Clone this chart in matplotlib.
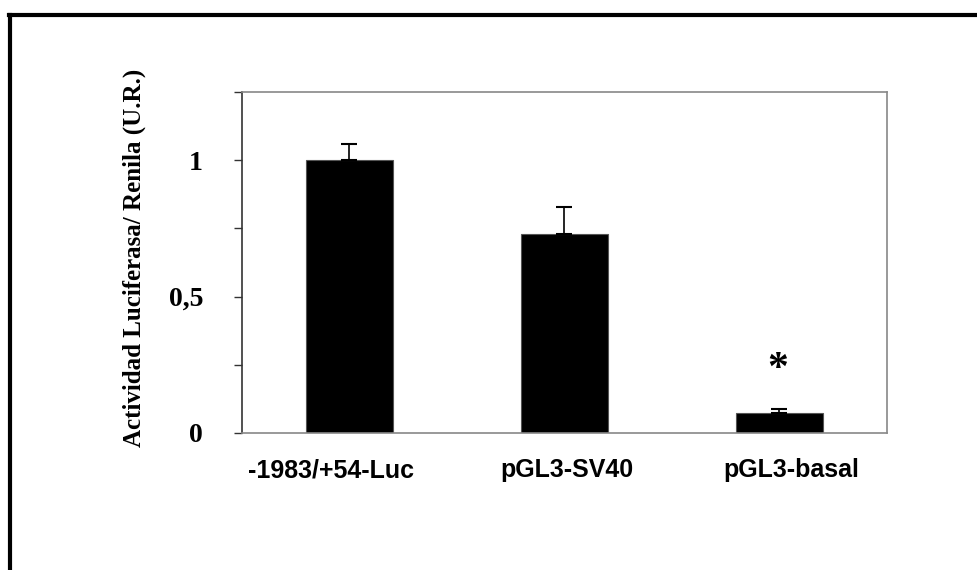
import matplotlib.pyplot as plt
from matplotlib.lines import Line2D
from matplotlib.transforms import ScaledTranslation

categories = ["-1983/+54-Luc", "pGL3-SV40", "pGL3-basal"]
values = [1.0, 0.73, 0.074]
errors = [0.06, 0.10, 0.014]
yticks = [0, 0.25, 0.5, 0.75, 1.0, 1.25]
yticklabels = ["0", "", "0,5", "", "1", ""]

fig = plt.figure(figsize=(9.78, 5.70), dpi=100)
W, H = 978, 570
ax = fig.add_axes([242 / W, 1 - 433 / H, (887 - 242) / W, (433 - 92) / H])

x = range(len(categories))
ax.bar(x, values, width=0.405, color='black', edgecolor='#555555', linewidth=0.8, zorder=2)
ax.errorbar(x, values, yerr=[[0] * len(values), errors], fmt='none', ecolor='black',
            elinewidth=1.2, capsize=6, capthick=1.5, zorder=3)

ax.set_xlim(-0.5, 2.5)
ax.set_ylim(0, 1.25)
ax.set_yticks(yticks)
ax.set_yticklabels(yticklabels, family='Liberation Serif', fontweight='bold', fontsize=20)
ax.set_xticks(list(x))
ax.set_xticklabels(categories, family='Liberation Sans', fontweight='bold', fontsize=18)
ax.tick_params(axis='x', length=0, pad=18)
ax.tick_params(axis='y', direction='out', length=6, width=1, color='#333333', pad=22)

# labels are not centred exactly under the bars in the original
shifts = [-18, 2, 12]
for lab, dx in zip(ax.get_xticklabels(), shifts):
    lab.set_transform(lab.get_transform() + ScaledTranslation(dx / 100, 0, fig.dpi_scale_trans))

for s in ['top', 'right', 'bottom']:
    ax.spines[s].set_color('#888888')
    ax.spines[s].set_linewidth(1.2)
ax.spines['left'].set_color('#333333')
ax.spines['left'].set_linewidth(1.2)

ax.set_ylabel("Actividad Luciferasa/ Renila (U.R.)", family='Liberation Serif',
              fontweight='bold', fontsize=18)
ax.yaxis.set_label_coords(-0.149, 0.515)

# significance mark
ax.text(1.99, 0.23, "*", ha='center', va='center', family='Liberation Serif',
        fontweight='bold', fontsize=30)

# outer frame (top and left edges visible)
fig.add_artist(Line2D([8.5 / W, 1], [1 - 15 / H, 1 - 15 / H], color='black', linewidth=3,
                      transform=fig.transFigure))
fig.add_artist(Line2D([10 / W, 10 / W], [0, 1 - 15 / H], color='black', linewidth=3,
                      transform=fig.transFigure))

plt.savefig("out.png", dpi=100)
